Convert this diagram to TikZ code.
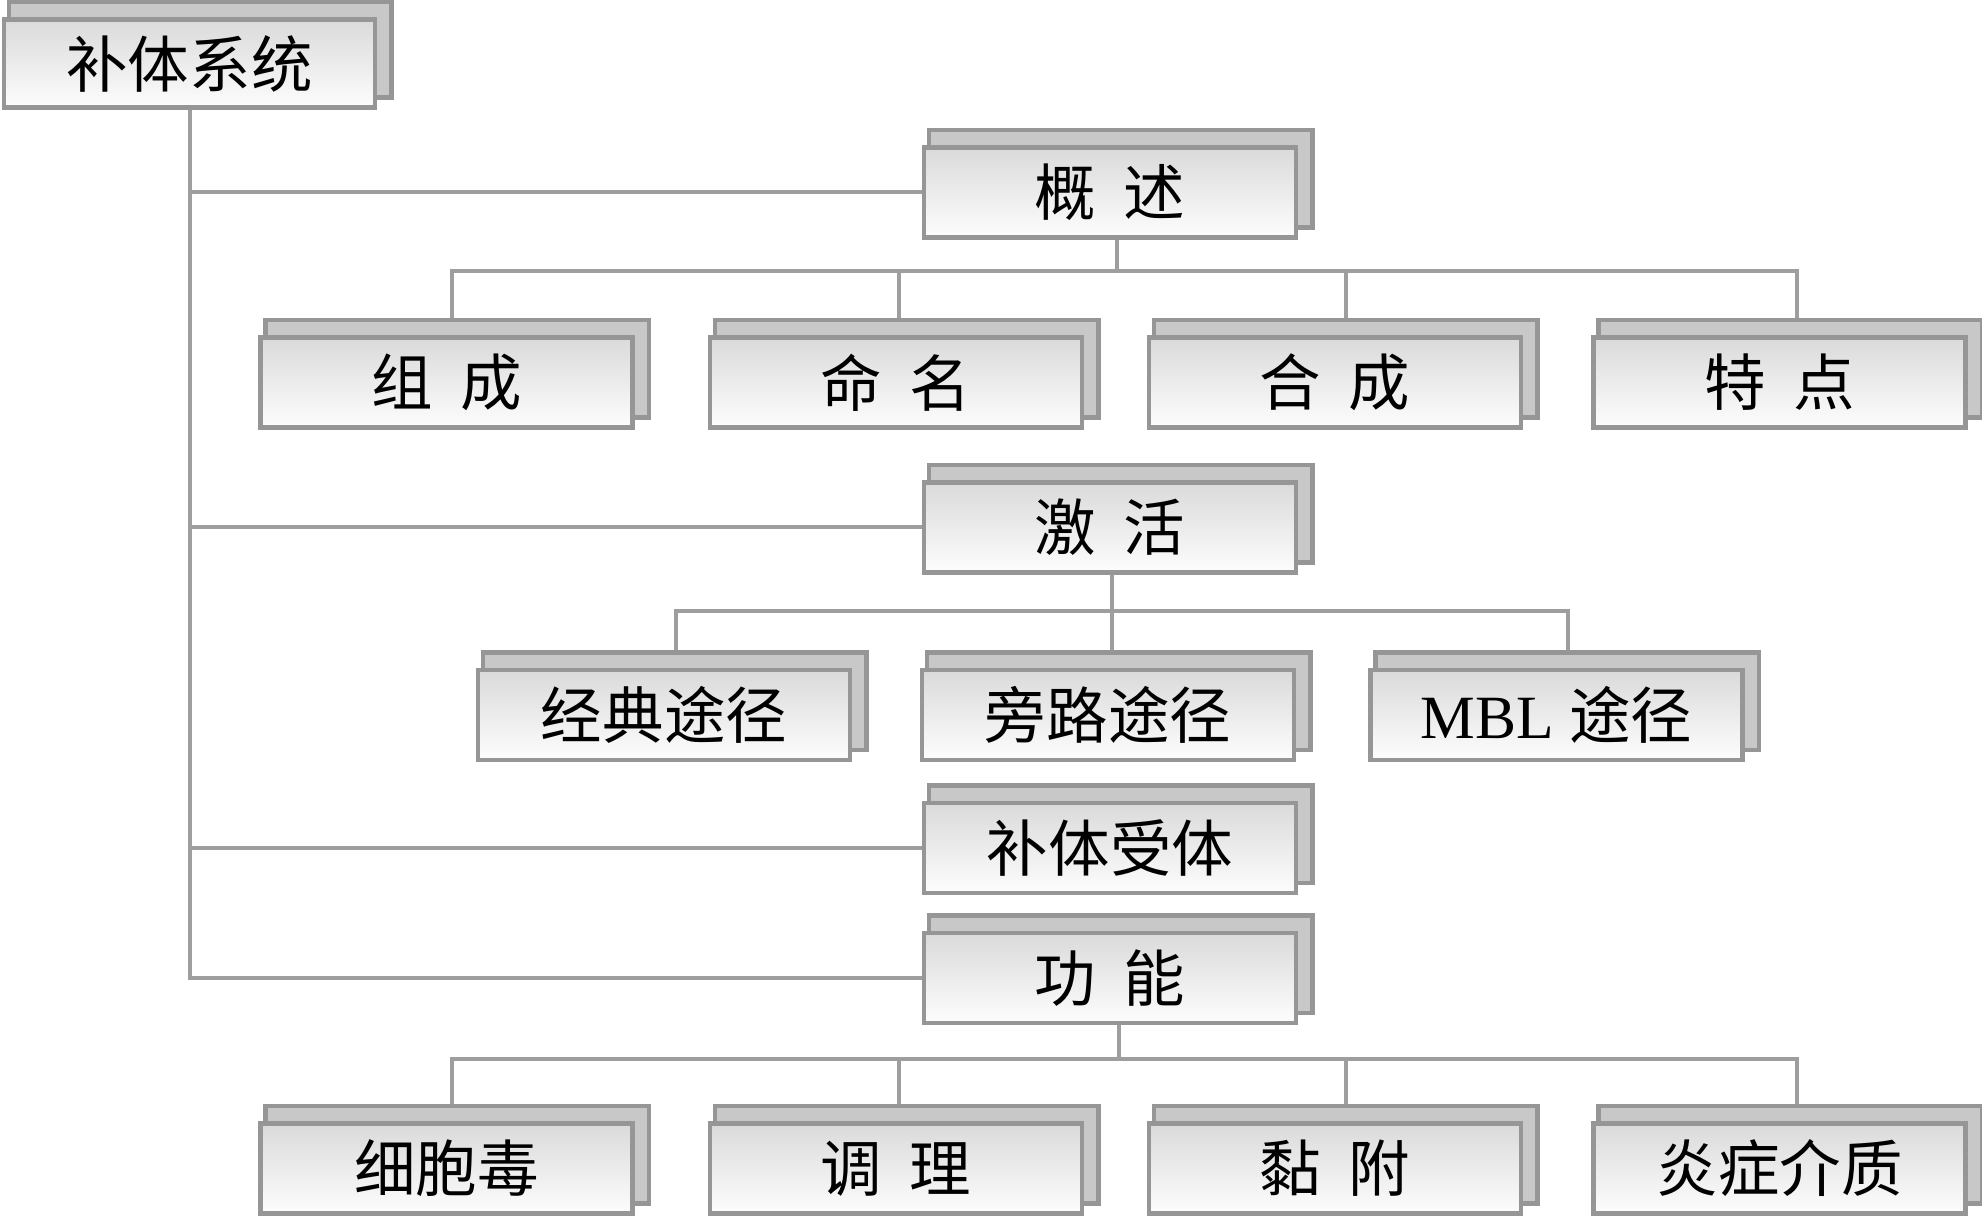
\documentclass[tikz,border=0pt]{standalone}
\usepackage{fontspec}
\setmainfont{Liberation Serif}
\newfontfamily\cjk{Noto Sans CJK SC}
\newfontfamily\lat{Liberation Serif}
\usetikzlibrary{calc}
\pgfdeclarelayer{paper}
\pgfdeclarelayer{bg}
\pgfdeclarelayer{mid}
\pgfsetlayers{paper,bg,mid,main}
\definecolor{linec}{RGB}{158,158,158}
\definecolor{boxline}{RGB}{150,150,150}
\definecolor{backfill}{RGB}{200,200,200}
\definecolor{fronttop}{RGB}{218,218,218}
\definecolor{frontbot}{RGB}{253,253,253}
\begin{document}
\begin{tikzpicture}[
  box/.style={draw=boxline, line width=0.045cm, top color=fronttop, bottom color=frontbot,
    minimum width=3.72cm, minimum height=0.9cm, inner sep=0pt,
    font=\fontsize{17.5}{20}\selectfont\cjk},
  conn/.style={draw=linec, line width=0.04cm},
  backbox/.style={draw=boxline, fill=backfill, line width=0.045cm}]
\useasboundingbox (0,0) rectangle (19.82,-12.19);
\begin{pgfonlayer}{paper}
\fill[white] (0,0) rectangle (19.82,-12.19);
\end{pgfonlayer}

% nodes
\node[box, minimum width=3.71cm, minimum height=0.88cm] (root) at (1.895,-0.635) {补体系统};
\node[box] (gs) at (11.10,-1.925) {概\hspace{.45em}述};
\node[box] (zc) at (4.465,-3.825) {组\hspace{.45em}成};
\node[box] (mm) at (8.96,-3.825) {命\hspace{.45em}名};
\node[box] (hc) at (13.35,-3.825) {合\hspace{.45em}成};
\node[box] (td) at (17.795,-3.825) {特\hspace{.45em}点};
\node[box] (jh) at (11.10,-5.275) {激\hspace{.45em}活};
\node[box] (jd) at (6.64,-7.15) {经典途径};
\node[box] (pl) at (11.08,-7.15) {旁路途径};
\node[box] (mbl) at (15.565,-7.15) {{\lat MBL\ }途径};
\node[box] (st) at (11.10,-8.48) {补体受体};
\node[box] (gn) at (11.10,-9.78) {功\hspace{.45em}能};
\node[box] (xb) at (4.465,-11.685) {细胞毒};
\node[box] (tl) at (8.96,-11.685) {调\hspace{.45em}理};
\node[box] (nf) at (13.35,-11.685) {黏\hspace{.45em}附};
\node[box] (yz) at (17.795,-11.685) {炎症介质};

% back boxes
\begin{pgfonlayer}{mid}
\foreach \n in {root,gs,zc,mm,hc,td,jh,jd,pl,mbl,st,gn,xb,tl,nf,yz}
  \draw[backbox] ($(\n.south west)+(0.07,0.12)$) rectangle ($(\n.north east)+(0.14,0.15)$);
\end{pgfonlayer}

% connectors
\begin{pgfonlayer}{bg}
\draw[conn] (root.south) |- (gs.west);
\draw[conn] (root.south) |- (jh.west);
\draw[conn] (root.south) |- (st.west);
\draw[conn] (root.south) |- (gn.west);

\draw[conn] ([xshift=.07cm]gs.south) -- ++(0,-0.31) coordinate (b1);
\foreach \c/\d in {zc/.055,mm/.03,hc/.11,td/.17}
  \draw[conn] ([xshift=\d cm]\c.north) |- (b1);

\draw[conn] ([xshift=.02cm]jh.south) -- ++(0,-0.36) coordinate (b2);
\foreach \c/\d in {jd/.12,pl/.04,mbl/.115}
  \draw[conn] ([xshift=\d cm]\c.north) |- (b2);

\draw[conn] ([xshift=.09cm]gn.south) -- ++(0,-0.34) coordinate (b3);
\foreach \c/\d in {xb/.055,tl/.03,nf/.11,yz/.17}
  \draw[conn] ([xshift=\d cm]\c.north) |- (b3);
\end{pgfonlayer}
\end{tikzpicture}
\end{document}
